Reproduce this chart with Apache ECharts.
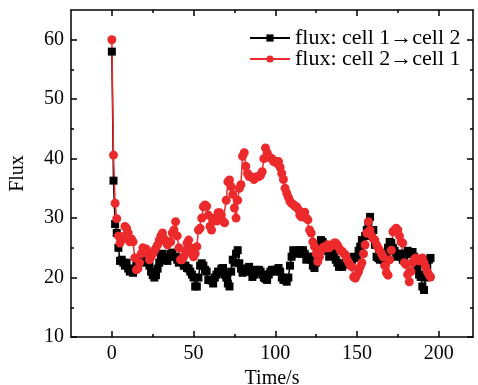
<!DOCTYPE html>
<html>
<head>
<meta charset="utf-8">
<script src="https://cdn.jsdelivr.net/npm/echarts@6/dist/echarts.min.js"></script>
<style>
  html, body { margin: 0; padding: 0; background: #fff; }
  #chart { width: 478px; height: 385px; }
</style>
</head>
<body>
<div id="chart"></div>
<script>
// sampling times (s)
const times = [
  0, 1, 2, 3, 4, 5, 6, 7, 8, 9, 10, 11, 12, 13, 14, 15, 16, 17, 18, 19,
  20, 21, 22, 23, 24, 25, 26, 27, 28, 29, 30, 31, 32, 33, 34, 35, 36, 37, 38, 39,
  40, 41, 42, 43, 44, 45, 46, 47, 48, 49, 50, 51, 52, 53, 54, 55, 56, 57, 58, 59,
  60, 61, 62, 63, 64, 65, 66, 67, 68, 69, 70, 71, 72, 73, 74, 75, 76, 77, 78, 79,
  80, 81, 82, 83, 84, 85, 86, 87, 88, 89, 90, 91, 92, 93, 94, 95, 96, 97, 98, 99,
  100, 101, 102, 103, 104, 105, 106, 107, 108, 109, 110, 111, 112, 113, 114, 115, 116, 117, 118, 119,
  120, 121, 122, 123, 124, 125, 126, 127, 128, 129, 130, 131, 132, 133, 134, 135, 136, 137, 138, 139,
  140, 141, 142, 143, 144, 145, 146, 147, 148, 149, 150, 151, 152, 153, 154, 155, 156, 157, 158, 159,
  160, 161, 162, 163, 164, 165, 166, 167, 168, 169, 170, 171, 172, 173, 174, 175, 176, 177, 178, 179,
  180, 181, 182, 183, 184, 185, 186, 187, 188, 189, 190, 191, 192, 193, 194, 195
];

// flux: cell 1 -> cell 2
const flux12 = [
  58, 36.3, 29, 27.5, 25, 22.8, 23, 22.5, 22, 22.5, 21.5, 21, 21.3, 20.8, 21.5, 22, 22.5, 23, 23.5, 23.5,
  23, 22.5, 23, 22, 21, 20.4, 20, 20.4, 21.5, 22.5, 23.8, 24, 23.5, 23, 22.8, 23.5, 24, 24.2, 23.5, 23.5,
  23, 22.5, 23, 22.7, 22, 22, 21.6, 21.5, 21, 20.5, 20, 18.5, 18.5, 20, 22, 22.4, 22, 21.3, 21, 19.6,
  19.6, 19.5, 19, 20, 20.5, 21, 20.8, 21.5, 21.6, 20.5, 20, 19, 18.5, 21, 23, 22.5, 24, 24.6, 22.4, 21.5,
  20.8, 21.2, 21.5, 21, 21.8, 21, 20.1, 20.5, 21.3, 21, 21.3, 21, 20.5, 20, 19.8, 19.6, 20.5, 21, 21.3, 21,
  21.3, 21.3, 21.6, 21, 20, 19.6, 19.6, 19.3, 20, 22, 23.5, 24.6, 24.5, 24, 24.2, 24.6, 24, 24.6, 24, 23,
  23.5, 23.5, 23, 22, 21.6, 22.5, 24, 25.5, 26.3, 26, 25.5, 25, 24.5, 23.5, 25.2, 24.5, 24, 23, 22.5, 21.8,
  22, 21.8, 22.2, 22.5, 22.4, 22.8, 22.4, 23, 23.5, 23.3, 23.3, 24.5, 25.2, 26.3, 25.5, 27, 28, 29, 30.2, 27,
  28, 25.5, 23.5, 23.3, 23, 24, 23, 22.5, 24, 25, 26, 25.8, 25, 24.5, 23.5, 24, 24, 23.5, 23, 23.5,
  24, 24.5, 24, 24.3, 24.3, 23.5, 22.5, 21.5, 20.5, 20.1, 18.5, 17.9, 20, 22, 23, 23.3
];

// flux: cell 2 -> cell 1
const flux21 = [
  60, 40.6, 32.5, 29.9, 27, 25.8, 26.9, 26.5, 28.6, 28.3, 27.5, 26, 26.5, 26, 23.3, 21.3, 21.5, 22.5, 24, 25,
  24.6, 24.8, 24, 23, 23.5, 24, 24.5, 25, 25.5, 26.3, 27, 27.5, 26.5, 26, 25.5, 26, 26, 27.5, 28, 29.4,
  27, 25, 23, 23, 23.5, 24.5, 25.8, 26.3, 25, 24, 23.5, 24, 25.2, 28, 28.3, 30, 31.9, 32.2, 32, 30.5,
  28.6, 28, 29.5, 30, 29.5, 30.9, 30.9, 30.5, 29.5, 29.2, 33, 36.1, 36.4, 35.3, 34, 31.7, 30, 33, 35, 35.6,
  40.4, 41, 38.7, 37.5, 37, 37, 36.8, 36.5, 36.8, 37, 37, 37.2, 37.8, 40, 41.8, 41, 40.4, 40.1, 40, 39.5,
  39.5, 39.2, 39.5, 38.5, 37.5, 36.5, 35, 34.2, 33.5, 32.8, 32.5, 32.3, 32, 31.9, 31.5, 30.5, 30.2, 30.9, 31, 30,
  29.7, 28, 27.5, 26, 25.2, 24, 22.7, 23.5, 24.5, 25, 25.2, 25, 25.5, 25, 25.3, 25.5, 25.8, 25.8, 25.5, 25,
  24.5, 24.4, 24, 23.8, 23, 22.5, 22, 21.8, 20.1, 19.9, 20.5, 21, 21.8, 22.5, 24, 25.5, 27.5, 29.4, 28, 27,
  26.5, 26.3, 25.5, 25, 24.5, 24, 23.5, 22, 20.8, 20.4, 23, 24.6, 27.7, 28, 28.3, 28, 27, 26, 25.8, 22.5,
  22.2, 20.5, 19.3, 21, 22.5, 23, 23.3, 23, 22.8, 23, 23.3, 22.5, 21.8, 21, 20.5, 20.1
];

const xMajor = [0, 50, 100, 150, 200];
const xMinor = [25, 75, 125, 175];
const yMajor = [10, 20, 30, 40, 50, 60];
const yMinor = [15, 25, 35, 45, 55];

const FONT = '"Liberation Serif", "DejaVu Serif", serif';
const line = { color: '#000', width: 1.5 };

function pairs(xs, ys) {
  return xs.map((x, i) => [x, ys[i]]);
}

function xAx(pos, ticks, len, showLine, withLabel) {
  return {
    type: 'value', position: pos, min: -25, max: 221,
    axisLine: { show: showLine, onZero: false, lineStyle: line },
    axisTick: { inside: true, length: len, customValues: ticks, lineStyle: line },
    axisLabel: withLabel
      ? { customValues: xMajor, color: '#000', fontSize: 20, fontFamily: FONT, margin: 7 }
      : { show: false },
    splitLine: { show: false }
  };
}
function yAx(pos, ticks, len, showLine, withLabel) {
  return {
    type: 'value', position: pos, min: 10, max: 65,
    axisLine: { show: showLine, onZero: false, lineStyle: line },
    axisTick: { inside: true, length: len, customValues: ticks, lineStyle: line },
    axisLabel: withLabel
      ? { customValues: yMajor, color: '#000', fontSize: 20, fontFamily: FONT, margin: 7 }
      : { show: false },
    splitLine: { show: false }
  };
}

const xAxes = [
  xAx('bottom', xMajor, 6, true, true),
  xAx('bottom', xMinor, 3, false, false),
  xAx('top', xMajor, 6, true, false),
  xAx('top', xMinor, 3, false, false)
];
xAxes[0].name = 'Time/s';
xAxes[0].nameLocation = 'middle';
xAxes[0].nameGap = 20;
xAxes[0].nameTextStyle = { color: '#000', fontSize: 20, fontFamily: FONT };

const yAxes = [
  yAx('left', yMajor, 6, true, true),
  yAx('left', yMinor, 3, false, false),
  yAx('right', yMajor, 6, true, false),
  yAx('right', yMinor, 3, false, false)
];
yAxes[0].name = 'Flux';
yAxes[0].nameLocation = 'middle';
yAxes[0].nameGap = 43;
yAxes[0].nameTextStyle = { color: '#000', fontSize: 20, fontFamily: FONT };

const chart = echarts.init(document.getElementById('chart'), null, { renderer: 'canvas' });
chart.setOption({
  animation: false,
  backgroundColor: '#fff',
  grid: { left: 71, right: 5, top: 10, bottom: 48, containLabel: false, outerBoundsMode: 'none' },
  legend: {
    orient: 'vertical',
    left: 244,
    top: 22,
    itemWidth: 40,
    itemHeight: 9,
    itemGap: -1,
    itemTextGap: 7,
    textStyle: { color: '#000', fontSize: 22, fontFamily: FONT, lineHeight: 20 },
    data: ['flux: cell 1\u2192cell 2', 'flux: cell 2\u2192cell 1']
  },
  xAxis: xAxes,
  yAxis: yAxes,
  series: [
    {
      name: 'flux: cell 1\u2192cell 2',
      type: 'line',
      data: pairs(times, flux12),
      symbol: 'rect',
      symbolSize: 8,
      showAllSymbol: true,
      itemStyle: { color: '#000' },
      lineStyle: { color: '#000', width: 1.5 }
    },
    {
      name: 'flux: cell 2\u2192cell 1',
      type: 'line',
      data: pairs(times, flux21),
      symbol: 'circle',
      symbolSize: 9,
      showAllSymbol: true,
      itemStyle: { color: '#ec2a2c' },
      lineStyle: { color: '#ec2a2c', width: 1.5 }
    }
  ]
});
</script>
</body>
</html>
